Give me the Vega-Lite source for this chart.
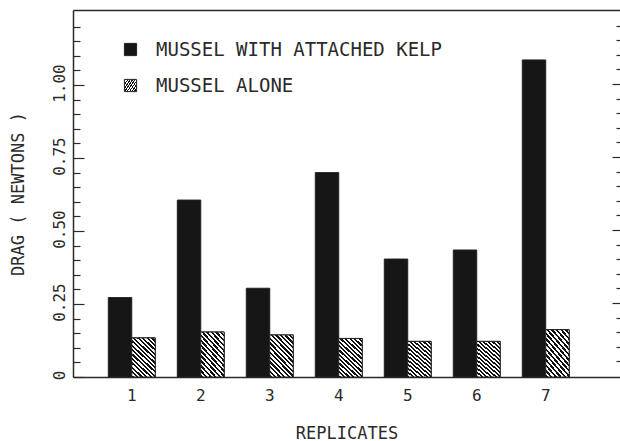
{
  "$schema": "https://vega.github.io/schema/vega-lite/v6.json",
  "width": 547,
  "height": 367,
  "autosize": {"type": "none"},
  "padding": {"left": 73, "top": 10, "right": 0, "bottom": 64},
  "background": "white",
  "config": {
    "view": {"stroke": null},
    "font": "DejaVu Sans Mono",
    "axis": {"domainColor": "#2a2a2a", "tickColor": "#2a2a2a", "labelColor": "#2a2a2a", "titleColor": "#2a2a2a", "grid": false, "labelFont": "DejaVu Sans Mono", "titleFont": "DejaVu Sans Mono", "titleFontWeight": "normal", "domainWidth": 1.5, "tickWidth": 1.2},
    "legend": {"labelFont": "DejaVu Sans Mono", "labelFontSize": 19, "labelColor": "#2a2a2a", "labelOffset": 16, "symbolType": "square", "symbolSize": 150, "labelLimit": 0, "symbolStrokeWidth": 1}
  },
  "data": {
    "values": [
      {"rep": "1", "series": "MUSSEL WITH ATTACHED KELP", "drag": 0.272},
      {"rep": "1", "series": "MUSSEL ALONE", "drag": 0.134},
      {"rep": "2", "series": "MUSSEL WITH ATTACHED KELP", "drag": 0.606},
      {"rep": "2", "series": "MUSSEL ALONE", "drag": 0.154},
      {"rep": "3", "series": "MUSSEL WITH ATTACHED KELP", "drag": 0.304},
      {"rep": "3", "series": "MUSSEL ALONE", "drag": 0.144},
      {"rep": "4", "series": "MUSSEL WITH ATTACHED KELP", "drag": 0.700},
      {"rep": "4", "series": "MUSSEL ALONE", "drag": 0.132},
      {"rep": "5", "series": "MUSSEL WITH ATTACHED KELP", "drag": 0.404},
      {"rep": "5", "series": "MUSSEL ALONE", "drag": 0.122},
      {"rep": "6", "series": "MUSSEL WITH ATTACHED KELP", "drag": 0.435},
      {"rep": "6", "series": "MUSSEL ALONE", "drag": 0.122},
      {"rep": "7", "series": "MUSSEL WITH ATTACHED KELP", "drag": 1.086},
      {"rep": "7", "series": "MUSSEL ALONE", "drag": 0.162}
    ]
  },
  "resolve": {"axis": {"x": "independent", "y": "independent"}},
  "layer": [
    {
      "mark": {"type": "bar", "stroke": "#222", "strokeWidth": 1},
      "encoding": {
        "x": {
          "field": "rep", "type": "nominal",
          "scale": {"type": "band", "paddingInner": 0.32, "paddingOuter": 0.624, "align": 0.41},
          "axis": {"orient": "bottom", "ticks": false, "labelAngle": 0, "labelFontSize": 16, "labelPadding": 10, "title": "REPLICATES", "titleFontSize": 17, "titlePadding": 22}
        },
        "xOffset": {
          "field": "series", "type": "nominal",
          "scale": {"domain": ["MUSSEL WITH ATTACHED KELP", "MUSSEL ALONE"], "paddingInner": 0, "paddingOuter": 0}
        },
        "y": {
          "field": "drag", "type": "quantitative",
          "scale": {"domain": [0, 1.257], "nice": false, "zero": true},
          "axis": {
            "orient": "left",
            "values": [0, 0.05, 0.1, 0.15, 0.2, 0.25, 0.3, 0.35, 0.4, 0.45, 0.5, 0.55, 0.6, 0.65, 0.7, 0.75, 0.8, 0.85, 0.9, 0.95, 1.0, 1.05, 1.1, 1.15, 1.2],
            "tickSize": {"condition": {"test": "abs(datum.value*4 - round(datum.value*4)) < 0.001", "value": -11}, "value": -7},
            "labelExpr": "abs(datum.value*4 - round(datum.value*4)) < 0.001 ? (datum.value == 0 ? '0' : format(datum.value, '.2f')) : ''",
            "labelAngle": -90,
            "labelAlign": "center",
            "labelFontSize": 16,
            "labelPadding": 17,
            "labelOffset": -2,
            "title": "DRAG ( NEWTONS )",
            "titleFontSize": 17,
            "titlePadding": 24
          }
        },
        "fill": {
          "field": "series", "type": "nominal",
          "scale": {"domain": ["MUSSEL WITH ATTACHED KELP", "MUSSEL ALONE"], "range": ["#161616", "#ffffff"]},
          "legend": {"orient": "none", "legendX": 48, "legendY": 30, "title": null, "values": ["MUSSEL WITH ATTACHED KELP"]}
        }
      }
    },
    {
      "transform": [{"filter": "datum.series === 'MUSSEL ALONE'"}],
      "mark": {"type": "bar", "strokeWidth": 1, "fill": {"gradient": "linear", "x1": 0, "y1": 1, "x2": 0.68, "y2": -0.183, "stops": [
        {"offset": 0, "color": "#111"}, {"offset": 0.0357, "color": "#111"}, {"offset": 0.0357, "color": "#fff"}, {"offset": 0.0714, "color": "#fff"},
        {"offset": 0.0714, "color": "#111"}, {"offset": 0.1071, "color": "#111"}, {"offset": 0.1071, "color": "#fff"}, {"offset": 0.1429, "color": "#fff"},
        {"offset": 0.1429, "color": "#111"}, {"offset": 0.1786, "color": "#111"}, {"offset": 0.1786, "color": "#fff"}, {"offset": 0.2143, "color": "#fff"},
        {"offset": 0.2143, "color": "#111"}, {"offset": 0.25, "color": "#111"}, {"offset": 0.25, "color": "#fff"}, {"offset": 0.2857, "color": "#fff"},
        {"offset": 0.2857, "color": "#111"}, {"offset": 0.3214, "color": "#111"}, {"offset": 0.3214, "color": "#fff"}, {"offset": 0.3571, "color": "#fff"},
        {"offset": 0.3571, "color": "#111"}, {"offset": 0.3929, "color": "#111"}, {"offset": 0.3929, "color": "#fff"}, {"offset": 0.4286, "color": "#fff"},
        {"offset": 0.4286, "color": "#111"}, {"offset": 0.4643, "color": "#111"}, {"offset": 0.4643, "color": "#fff"}, {"offset": 0.5, "color": "#fff"},
        {"offset": 0.5, "color": "#111"}, {"offset": 0.5357, "color": "#111"}, {"offset": 0.5357, "color": "#fff"}, {"offset": 0.5714, "color": "#fff"},
        {"offset": 0.5714, "color": "#111"}, {"offset": 0.6071, "color": "#111"}, {"offset": 0.6071, "color": "#fff"}, {"offset": 0.6429, "color": "#fff"},
        {"offset": 0.6429, "color": "#111"}, {"offset": 0.6786, "color": "#111"}, {"offset": 0.6786, "color": "#fff"}, {"offset": 0.7143, "color": "#fff"},
        {"offset": 0.7143, "color": "#111"}, {"offset": 0.75, "color": "#111"}, {"offset": 0.75, "color": "#fff"}, {"offset": 0.7857, "color": "#fff"},
        {"offset": 0.7857, "color": "#111"}, {"offset": 0.8214, "color": "#111"}, {"offset": 0.8214, "color": "#fff"}, {"offset": 0.8571, "color": "#fff"},
        {"offset": 0.8571, "color": "#111"}, {"offset": 0.8929, "color": "#111"}, {"offset": 0.8929, "color": "#fff"}, {"offset": 0.9286, "color": "#fff"},
        {"offset": 0.9286, "color": "#111"}, {"offset": 0.9643, "color": "#111"}, {"offset": 0.9643, "color": "#fff"}, {"offset": 1, "color": "#fff"}
      ]}},
      "encoding": {
        "x": {"field": "rep", "type": "nominal", "axis": {"orient": "top", "ticks": false, "labels": false, "title": null, "domain": true}},
        "xOffset": {"field": "series", "type": "nominal"},
        "y": {
          "field": "drag", "type": "quantitative",
          "axis": {
            "orient": "right", "labels": false, "domain": false, "title": null,
            "values": [0.05, 0.1, 0.15, 0.2, 0.25, 0.3, 0.35, 0.4, 0.45, 0.5, 0.55, 0.6, 0.65, 0.7, 0.75, 0.8, 0.85, 0.9, 0.95, 1.0, 1.05, 1.1, 1.15, 1.2],
            "tickSize": {"condition": {"test": "abs(datum.value*4 - round(datum.value*4)) < 0.001", "value": -8}, "value": -4},
            "tickOffset": -1
          }
        },
        "stroke": {
          "field": "series", "type": "nominal",
          "scale": {"domain": ["MUSSEL ALONE"], "range": ["#222222"]},
          "legend": {"orient": "none", "legendX": 48, "legendY": 66, "title": null}
        }
      }
    }
  ]
}
